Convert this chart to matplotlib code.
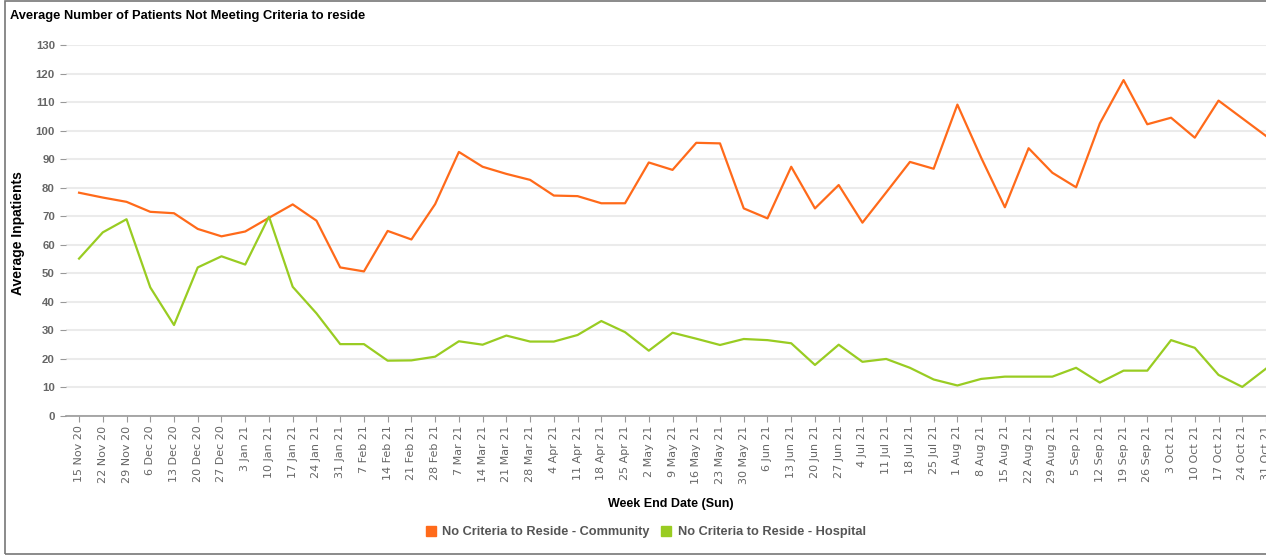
import numpy as np
import matplotlib
matplotlib.use("Agg")
import matplotlib.pyplot as plt
from matplotlib.patches import Rectangle
from matplotlib.lines import Line2D

weeks = ["15 Nov 20", "22 Nov 20", "29 Nov 20", "6 Dec 20", "13 Dec 20", "20 Dec 20",
         "27 Dec 20", "3 Jan 21", "10 Jan 21", "17 Jan 21", "24 Jan 21", "31 Jan 21",
         "7 Feb 21", "14 Feb 21", "21 Feb 21", "28 Feb 21", "7 Mar 21", "14 Mar 21",
         "21 Mar 21", "28 Mar 21", "4 Apr 21", "11 Apr 21", "18 Apr 21", "25 Apr 21",
         "2 May 21", "9 May 21", "16 May 21", "23 May 21", "30 May 21", "6 Jun 21",
         "13 Jun 21", "20 Jun 21", "27 Jun 21", "4 Jul 21", "11 Jul 21", "18 Jul 21",
         "25 Jul 21", "1 Aug 21", "8 Aug 21", "15 Aug 21", "22 Aug 21", "29 Aug 21",
         "5 Sep 21", "12 Sep 21", "19 Sep 21", "26 Sep 21", "3 Oct 21", "10 Oct 21",
         "17 Oct 21", "24 Oct 21", "31 Oct 21"]

community = [78.2, 76.5, 75.0, 71.5, 71.0, 65.5, 62.9, 64.6, 69.4, 74.1, 68.4, 52.0,
             50.6, 64.8, 61.8, 74.2, 92.5, 87.3, 84.8, 82.7, 77.2, 77.0, 74.5, 74.5,
             88.8, 86.2, 95.7, 95.5, 72.7, 69.2, 87.3, 72.7, 80.9, 67.7, 78.3, 89.0,
             86.6, 109.1, 90.5, 73.1, 93.8, 85.2, 80.1, 102.5, 117.7, 102.2, 104.5,
             97.5, 110.5, 104.3, 98.1]

hospital = [55.1, 64.3, 68.9, 45.0, 31.8, 52.0, 55.9, 53.0, 69.8, 45.2, 35.9, 25.1,
            25.1, 19.3, 19.4, 20.7, 26.1, 24.9, 28.1, 26.0, 26.0, 28.3, 33.2, 29.3,
            22.8, 29.1, 27.0, 24.8, 26.9, 26.5, 25.4, 17.8, 24.9, 18.9, 19.9, 16.8,
            12.7, 10.6, 12.9, 13.7, 13.7, 13.7, 16.8, 11.6, 15.8, 15.8, 26.5, 23.8,
            14.3, 10.1, 16.5]

orange = "#ff6a1a"
green = "#99cc22"
grey = "#666666"
font = "Liberation Sans"

fig = plt.figure(figsize=(12.66, 5.56), dpi=100)
ax = fig.add_axes([66 / 1266, 1 - 415.7 / 556, 1 - 66 / 1266, (415.7 - 45) / 556])

x = np.arange(len(weeks))
ax.plot(x, community, color=orange, lw=1.6, clip_on=False)
ax.plot(x, hospital, color=green, lw=1.6, clip_on=False)

ax.set_xlim(-0.55, 50)
ax.set_ylim(0, 130)
ax.set_yticks(np.arange(0, 131, 10))
ax.set_xticks(x)
ax.set_xticklabels(weeks, rotation=90, fontsize=8, color=grey, family="DejaVu Sans")
for lbl in ax.get_yticklabels():
    lbl.set_fontsize(8.2)
    lbl.set_color(grey)
    lbl.set_fontweight("bold")
    lbl.set_family(font)

ax.grid(axis="y", color="#ebebeb", lw=1.5)
ax.set_axisbelow(True)
for s in ["top", "right", "left"]:
    ax.spines[s].set_visible(False)
ax.spines["bottom"].set_color("#999999")
ax.spines["bottom"].set_linewidth(1.2)
ax.tick_params(axis="y", length=4, color="#999999", pad=4)
ax.tick_params(axis="x", length=4, color="#999999", pad=3)

ax.set_xlabel("Week End Date (Sun)", fontsize=9, fontweight="bold", family=font)
ax.xaxis.set_label_coords((671 - 66) / 1200, -(498 - 415.7) / 370.7)
fig.text(18 / 1266, 1 - 233 / 556, "Average Inpatients", rotation=90, fontsize=10,
         fontweight="bold", family=font, ha="center", va="center")

fig.text(10 / 1266, 1 - 16 / 556, "Average Number of Patients Not Meeting Criteria to reside",
         fontsize=9.25, fontweight="bold", family=font, va="center")

handles = [Line2D([], [], ls="", marker="s", ms=6.5, color=orange),
           Line2D([], [], ls="", marker="s", ms=6.5, color=green)]
fig.legend(handles, ["No Criteria to Reside - Community", "No Criteria to Reside - Hospital"],
           loc="center", bbox_to_anchor=(645 / 1266, 1 - 532 / 556), ncol=2, frameon=False,
           prop={"family": font, "size": 9.2, "weight": "bold"},
           labelcolor="#555555", handletextpad=0.4, columnspacing=0.8, handlelength=1)

fig.patches.append(Rectangle((5 / 1266, 2 / 556), 1.2, 553 / 556, transform=fig.transFigure,
                             fill=False, ec="#777777", lw=1.2))

fig.savefig("out.png", dpi=100)
